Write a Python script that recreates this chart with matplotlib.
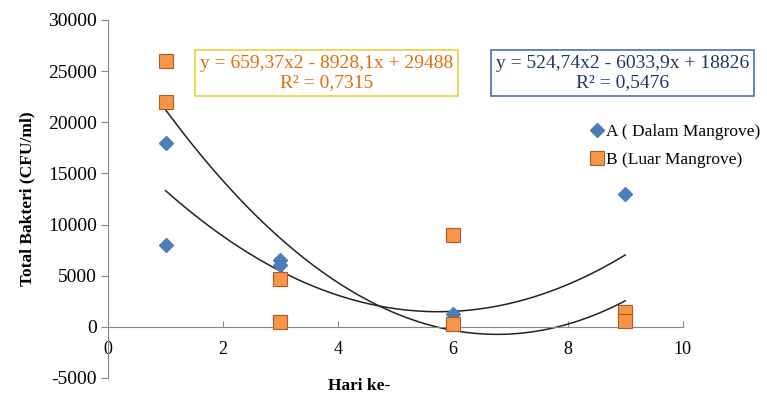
import numpy as np
import matplotlib.pyplot as plt

plt.rcParams['font.family'] = 'Liberation Serif'
plt.rcParams['axes.unicode_minus'] = False

# data
a_hari = [1, 1, 3, 3, 6, 9]
a_bakteri = [18000, 8000, 6500, 6000, 1300, 13000]
b_hari = [1, 1, 3, 3, 6, 6, 9, 9]
b_bakteri = [26000, 22000, 4700, 500, 9000, 300, 1500, 600]

# printed trendline coefficients (x2, x, c)
a_coef = [524.74, -6033.9, 18826]
b_coef = [659.37, -8928.1, 29488]
a_label = 'y = 524,74x2 - 6033,9x + 18826\nR² = 0,5476'
b_label = 'y = 659,37x2 - 8928,1x + 29488\nR² = 0,7315'

blue = '#4a7ebb'
orange = '#f79646'

fig = plt.figure(figsize=(7.67, 4.0), dpi=100)
ax = fig.add_axes([0.141, 0.055, 0.749, 0.895])

xs = np.linspace(1, 9, 200)
ax.plot(xs, np.polyval(a_coef, xs), color='#222222', lw=1.1, zorder=2)
ax.plot(xs, np.polyval(b_coef, xs), color='#222222', lw=1.1, zorder=2)

ax.plot(a_hari, a_bakteri, 'D', color=blue, ms=7, mec=blue,
        ls='none', label='A ( Dalam Mangrove)', zorder=3)
ax.plot(b_hari, b_bakteri, 's', color=orange, ms=10, mec='#b4582a', mew=0.8,
        ls='none', label='B (Luar Mangrove)', zorder=4)

ax.set_xlim(0, 10)
ax.set_ylim(-5000, 30000)
ax.set_xticks(range(0, 11, 2))
ax.set_yticks(range(-5000, 30001, 5000))

for s in ['top', 'right']:
    ax.spines[s].set_visible(False)
ax.spines['bottom'].set_position(('data', 0))
ax.spines['bottom'].set_color('#888888')
ax.spines['left'].set_color('#888888')
ax.tick_params(axis='y', direction='out', length=5, color='#888888', labelsize=14, pad=3)
ax.tick_params(axis='x', direction='in', length=4, color='#888888', labelsize=13, pad=10)

ax.set_ylabel('Total Bakteri (CFU/ml)', fontweight='bold', fontsize=12.5, labelpad=9)
fig.text(0.468, 0.035, 'Hari ke-', ha='center', va='center', fontweight='bold', fontsize=12.5)

fig.text(0.426, 0.818, b_label, ha='center', va='center', fontsize=14, color='#e46c0a',
         linespacing=1.15,
         bbox=dict(boxstyle='square,pad=0.25', fc='white', ec='#e6d23c', lw=1.2))
fig.text(0.812, 0.818, a_label, ha='center', va='center', fontsize=14, color='#1f3864',
         linespacing=1.15,
         bbox=dict(boxstyle='square,pad=0.25', fc='white', ec='#4a6fa5', lw=1.2))

fig.legend(loc='upper left', bbox_to_anchor=(0.772, 0.69), frameon=False, fontsize=12.5,
           handlelength=0.6, handletextpad=0.2, labelspacing=0.7, borderaxespad=0,
           borderpad=0)

fig.savefig('out.png', dpi=100)
